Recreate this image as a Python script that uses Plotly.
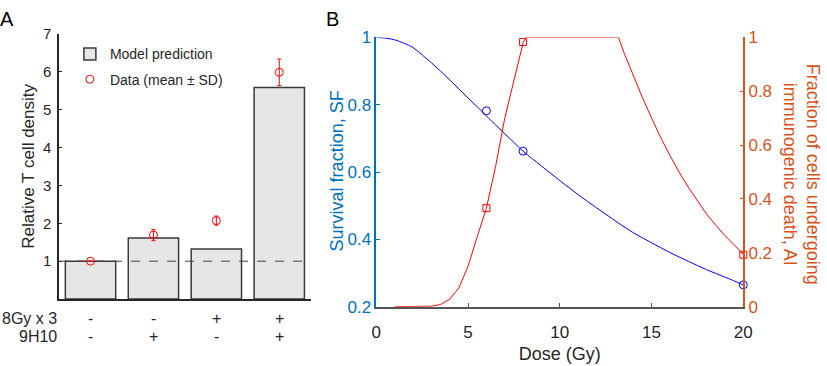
import plotly.graph_objects as go

# ---------------- Panel A data ----------------
groups = [1, 2, 3, 4]
row_8gy = ["-", "-", "+", "+"]
row_9h10 = ["-", "+", "-", "+"]
row_names = ["8Gy x 3", "9H10"]
model_pred = [1.0, 1.61, 1.32, 5.58]
data_mean = [1.0, 1.69, 2.07, 5.98]
data_sd = [0.0, 0.15, 0.12, 0.35]
baseline = 1.0
a_yticks = [1, 2, 3, 4, 5, 6, 7]

# ---------------- Panel B data ----------------
sf_dose = [0, 0.5, 1, 1.5, 2, 2.5, 3, 3.5, 4, 4.5, 5, 5.5, 6, 6.5, 7, 7.5, 8,
           9, 10, 11, 12, 13, 14, 15, 16, 17, 18, 19, 20]
sf_val = [1.0, 0.998, 0.993, 0.983, 0.970, 0.948, 0.925, 0.900, 0.874, 0.847,
          0.820, 0.794, 0.767, 0.740, 0.714, 0.688, 0.662,
          0.618, 0.575, 0.533, 0.494, 0.456, 0.420, 0.390, 0.361, 0.335,
          0.310, 0.288, 0.265]
sf_obs_dose = [6, 8, 20]
sf_obs = [0.782, 0.662, 0.265]

ai_dose = [1.0, 2.0, 3.0, 3.5, 4.0, 4.5, 5.0, 5.5, 6.0, 6.5, 7.0, 7.5, 8.0, 8.15,
           9, 10, 11, 12, 13, 13.2, 13.5, 14, 14.5, 15, 15.5, 16, 16.5, 17, 17.5,
           18, 18.5, 19, 19.5, 20]
ai_val = [0, 0, 0.002, 0.008, 0.028, 0.07, 0.15, 0.26, 0.366, 0.52, 0.70, 0.84,
          0.98, 1.0, 1, 1, 1, 1, 1, 1.0, 0.943, 0.859, 0.777, 0.701, 0.628, 0.562,
          0.500, 0.444, 0.393, 0.344, 0.303, 0.264, 0.230, 0.195]
ai_obs_dose = [6, 8, 20]
ai_obs = [0.366, 0.983, 0.193]

sf_ticks = [0.2, 0.4, 0.6, 0.8, 1.0]
sf_ticktext = ["0.2", "0.4", "0.6", "0.8", "1"]
ai_ticks = [0, 0.2, 0.4, 0.6, 0.8, 1.0]
ai_ticktext = ["0", "0.2", "0.4", "0.6", "0.8", "1"]
dose_ticks = [0, 5, 10, 15, 20]

W, H = 827, 366
FONT = "Liberation Sans, Arial, sans-serif"
DARK = "#262626"
BLUE_AX = "#0072BD"
ORANGE_AX = "#D95319"

fig = go.Figure()

# Panel A
fig.add_trace(go.Bar(
    x=groups, y=model_pred, width=0.8, name="Model prediction", legendgroup="a",
    marker=dict(color="#e6e6e6", line=dict(color="#3a3a3a", width=1.5)),
    xaxis="x", yaxis="y",
))
fig.add_trace(go.Scatter(
    x=groups, y=data_mean, mode="markers", name="Data (mean \u00b1 SD)", legendgroup="b",
    marker=dict(symbol="circle-open", size=8, color="#ff0000", line=dict(width=1)),
    error_y=dict(type="data", array=data_sd, color="#ff0000", thickness=1, width=2),
    xaxis="x", yaxis="y", cliponaxis=False,
))

# Panel B
fig.add_trace(go.Scatter(
    x=sf_dose, y=sf_val, mode="lines", line=dict(color="#0000ff", width=1, shape="spline"),
    xaxis="x2", yaxis="y2", showlegend=False, cliponaxis=False,
))
fig.add_trace(go.Scatter(
    x=sf_obs_dose, y=sf_obs, mode="markers",
    marker=dict(symbol="circle-open", size=8, color="#0000ff", line=dict(width=1)),
    xaxis="x2", yaxis="y2", showlegend=False, cliponaxis=False,
))
fig.add_trace(go.Scatter(
    x=ai_dose, y=ai_val, mode="lines", line=dict(color="#ff0000", width=1),
    xaxis="x2", yaxis="y3", showlegend=False, cliponaxis=False,
))
fig.add_trace(go.Scatter(
    x=ai_obs_dose, y=ai_obs, mode="markers",
    marker=dict(symbol="square-open", size=7, color="#ff0000", line=dict(width=1)),
    xaxis="x2", yaxis="y3", showlegend=False, cliponaxis=False,
))

# dashed baseline in panel A
fig.add_shape(type="line", xref="x domain", yref="y", x0=0, x1=1, y0=baseline, y1=baseline,
              line=dict(color="#404040", width=1, dash="dash"))

annotations = []
# row labels and +/- marks
row_y = [(H - 326) / H, (H - 345) / H]
for name, yy, row in zip(row_names, row_y, [row_8gy, row_9h10]):
    annotations.append(dict(text=name, xref="paper", yref="paper", x=55 / W, y=yy,
                            xanchor="right", yanchor="middle", showarrow=False,
                            font=dict(size=16, color=DARK, family=FONT)))
    for g, s in zip(groups, row):
        annotations.append(dict(text=s, xref="x", yref="paper", x=g, y=yy,
                                xanchor="center", yanchor="middle", showarrow=False,
                                font=dict(size=16, color=DARK, family=FONT)))
annotations.append(dict(text="A", xref="paper", yref="paper", x=-7 / W, y=1 + 3 / H,
                        xanchor="left", yanchor="top", showarrow=False,
                        font=dict(size=20, color="#000", family=FONT)))
annotations.append(dict(text="B", xref="paper", yref="paper", x=325 / W, y=1 + 3 / H,
                        xanchor="left", yanchor="top", showarrow=False,
                        font=dict(size=20, color="#000", family=FONT)))
annotations.append(dict(text="Survival fraction, SF",
                        xref="paper", yref="paper", x=338 / W, y=1 - 171 / H,
                        xanchor="center", yanchor="middle", textangle=-90, showarrow=False,
                        font=dict(size=18, color=BLUE_AX, family=FONT)))
annotations.append(dict(text="Fraction of cells undergoing<br>immunogenic death, AI",
                        xref="paper", yref="paper", x=810 / W, y=1 - 174 / H,
                        xanchor="center", yanchor="middle", textangle=90, showarrow=False,
                        font=dict(size=18, color=ORANGE_AX, family=FONT)))

fig.update_layout(
    width=W, height=H,
    margin=dict(l=0, r=0, t=0, b=0),
    paper_bgcolor="white", plot_bgcolor="white",
    font=dict(family=FONT, size=14, color=DARK),
    bargap=0.2,
    legend=dict(x=66 / W, y=1 - 31 / H, xanchor="left", yanchor="top",
                bgcolor="rgba(0,0,0,0)", font=dict(size=14, color=DARK, family=FONT),
                tracegroupgap=4),
    xaxis=dict(domain=[55 / W, 311 / W], range=[0.5, 4.5], showticklabels=False,
               showline=True, linecolor=DARK, linewidth=1.5, ticks="", showgrid=False,
               zeroline=False, anchor="y"),
    yaxis=dict(domain=[(H - 306) / H, (H - 26) / H], range=[0, 7], tickvals=a_yticks,
               showline=True, linecolor=DARK, linewidth=1.5, ticks="inside", ticklen=3,
               tickcolor=DARK, showgrid=False, zeroline=False, anchor="x",
               ticklabelstandoff=3,
               tickfont=dict(size=15, color=DARK),
               title=dict(text="Relative T cell density", font=dict(size=17, color=DARK),
                          standoff=4)),
    xaxis2=dict(domain=[377.7 / W, 751 / W], range=[0, 20], tickvals=dose_ticks,
                showline=True, linecolor="#555", linewidth=1.5, ticks="inside", ticklen=4,
                tickcolor="#555", showgrid=False, zeroline=False, anchor="y2",
                ticklabelstandoff=9,
                tickfont=dict(size=17, color=DARK),
                title=dict(text="Dose (Gy)", font=dict(size=18, color=DARK), standoff=7)),
    yaxis2=dict(domain=[(H - 314) / H, (H - 30) / H], range=[0.2, 1], tickvals=sf_ticks,
                ticktext=sf_ticktext, showline=True, linecolor=BLUE_AX, linewidth=1.5,
                ticks="inside", ticklen=4, tickcolor=BLUE_AX, showgrid=False,
                zeroline=False, anchor="x2", tickfont=dict(size=17, color=BLUE_AX)),
    yaxis3=dict(range=[0, 1], tickvals=ai_ticks, ticktext=ai_ticktext, overlaying="y2",
                side="right", anchor="x2", showline=True, linecolor=ORANGE_AX,
                linewidth=1.5, ticks="inside", ticklen=4, tickcolor=ORANGE_AX,
                showgrid=False, zeroline=False, tickfont=dict(size=17, color=ORANGE_AX)),
    annotations=annotations,
)

fig.write_html("out.html")
